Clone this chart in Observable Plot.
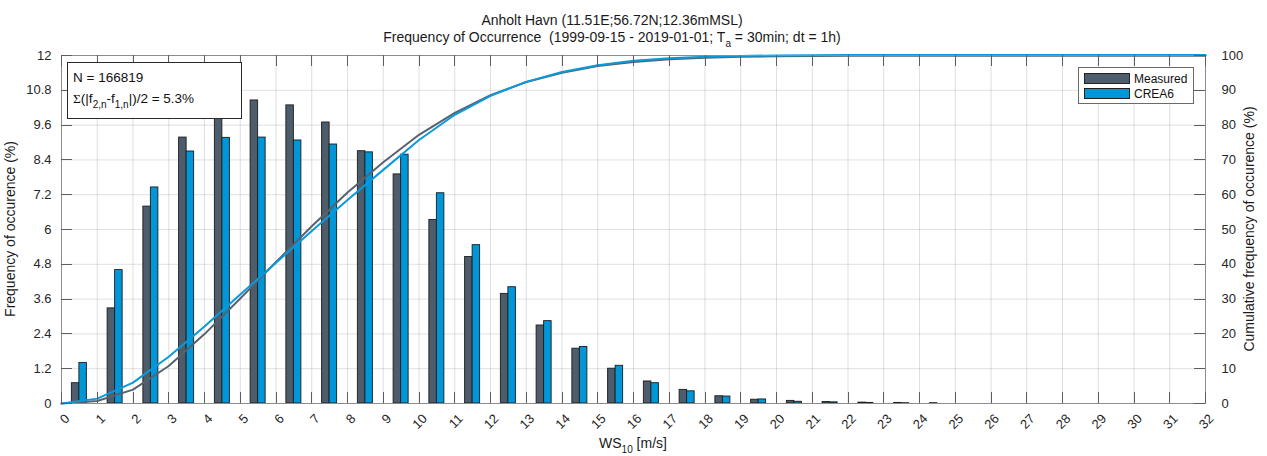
<!DOCTYPE html>
<html>
<head>
<meta charset="utf-8">
<script src="https://cdn.jsdelivr.net/npm/d3@7"></script>
<script src="https://cdn.jsdelivr.net/npm/@observablehq/plot@0.6"></script>
<style>
  html, body { margin: 0; padding: 0; background: #fff; }
  svg { display: block; }
</style>
</head>
<body>
<div id="chart"></div>
<script>
// Wind-speed bins: lower edge of each 1 m/s class
const binStart = [0, 1, 2, 3, 4, 5, 6, 7, 8, 9, 10, 11, 12, 13, 14, 15,
                  16, 17, 18, 19, 20, 21, 22, 23, 24, 25, 26, 27, 28, 29, 30, 31];

// Frequency of occurrence per bin (%)
const measured = [0.70, 3.28, 6.79, 9.17, 10.25, 10.45, 10.28, 9.69, 8.70, 7.90, 6.33, 5.05, 3.78, 2.69, 1.89, 1.20,
                  0.76, 0.47, 0.25, 0.13, 0.09, 0.05, 0.03, 0.02, 0.01, 0, 0, 0, 0, 0, 0, 0];
const crea6    = [1.40, 4.60, 7.45, 8.69, 9.16, 9.17, 9.07, 8.93, 8.66, 8.58, 7.25, 5.46, 4.01, 2.84, 1.95, 1.30,
                  0.70, 0.42, 0.24, 0.14, 0.06, 0.04, 0.02, 0.01, 0, 0, 0, 0, 0, 0, 0, 0];

const seriesNames  = ["Measured", "CREA6"];
const seriesColors = ["#4e5d6b", "#0096d8"];
const lineColors   = ["#56636f", "#0a99dd"];

// Axis ticks
const xTicks = [0, 1, 2, 3, 4, 5, 6, 7, 8, 9, 10, 11, 12, 13, 14, 15, 16,
                17, 18, 19, 20, 21, 22, 23, 24, 25, 26, 27, 28, 29, 30, 31, 32];
const leftTicks  = [0, 1.2, 2.4, 3.6, 4.8, 6, 7.2, 8.4, 9.6, 10.8, 12];
const rightTicks = [0, 10, 20, 30, 40, 50, 60, 70, 80, 90, 100];

const annotationN = "166819";
const annotationDiff = "5.3%";

// ---- layout ----
const W = 1267, H = 456;
const M = {top: 55, right: 62, bottom: 53, left: 61};
const BAR_W = 0.21;           // width of one bar, in m/s
const CUM_TO_LEFT = 12 / 100; // cumulative axis (0–100 %) shares the frame with the 0–12 % axis
const FONT = "'Liberation Sans', Arial, Helvetica, sans-serif";
const INK = "#262626";

// bars: two side by side, centred in each bin
const bars = binStart.flatMap((b, i) => [
  {series: seriesNames[0], x1: b + 0.5 - BAR_W, x2: b + 0.5, f: measured[i]},
  {series: seriesNames[1], x1: b + 0.5, x2: b + 0.5 + BAR_W, f: crea6[i]}
]).filter(d => d.f > 0);

// cumulative curves, evaluated at the upper edge of each bin
function cumulative(values, series) {
  const c = d3.cumsum(values);
  return [{series, x: binStart[0], c: 0}, ...binStart.map((b, i) => ({series, x: b + 1, c: c[i]}))];
}
const cumMeasured = cumulative(measured, seriesNames[0]);
const cumCrea6 = cumulative(crea6, seriesNames[1]);

const chart = Plot.plot({
  width: W,
  height: H,
  marginTop: M.top,
  marginRight: M.right,
  marginBottom: M.bottom,
  marginLeft: M.left,
  style: {fontFamily: FONT, fontSize: "13px", color: INK, background: "#fff"},
  x: {domain: [0, 32]},
  y: {domain: [0, 12]},
  color: {domain: seriesNames, range: seriesColors},
  marks: [
    Plot.gridX(xTicks, {stroke: INK, strokeOpacity: 0.14}),
    Plot.gridY(leftTicks, {stroke: INK, strokeOpacity: 0.14}),
    Plot.rect(bars, {x1: "x1", x2: "x2", y1: 0, y2: "f", fill: "series", stroke: "#1c1c1c", strokeWidth: 0.9}),
    Plot.line(cumMeasured, {x: "x", y: d => d.c * CUM_TO_LEFT, stroke: lineColors[0], strokeWidth: 2}),
    Plot.line(cumCrea6, {x: "x", y: d => d.c * CUM_TO_LEFT, stroke: lineColors[1], strokeWidth: 2}),
    Plot.frame({stroke: "#8c8c8c"}),
    Plot.axisX(xTicks, {anchor: "bottom", tickSize: 0, tickRotate: -45, tickPadding: 13, dx: 6,
                        tickFormat: d => String(d), label: null, fill: INK}),
    Plot.axisY(leftTicks, {anchor: "left", tickSize: 0, tickPadding: 10,
                           tickFormat: d => String(d), label: null, fill: INK}),
    Plot.axisY(rightTicks.map(t => t * CUM_TO_LEFT), {anchor: "right", tickSize: 0, tickPadding: 16,
                           tickFormat: d => String(Math.round(d / CUM_TO_LEFT)), label: null, fill: INK})
  ]
});

document.getElementById("chart").appendChild(chart);

const svg = d3.select(chart);
const xs = chart.scale("x"), ys = chart.scale("y");
const x0 = M.left, x1 = W - M.right, y0 = M.top, y1 = H - M.bottom;

// inward tick marks on all four sides
const TICK = 11;
const ticks = svg.append("g").attr("stroke", "#5e5e5e").attr("stroke-width", 1);
xTicks.forEach(v => {
  const px = Math.round(xs.apply(v)) + 0.5;
  ticks.append("line").attr("x1", px).attr("x2", px).attr("y1", y1).attr("y2", y1 - TICK);
  ticks.append("line").attr("x1", px).attr("x2", px).attr("y1", y0).attr("y2", y0 + TICK);
});
leftTicks.forEach(v => {
  const py = Math.round(ys.apply(v)) + 0.5;
  ticks.append("line").attr("y1", py).attr("y2", py).attr("x1", x0).attr("x2", x0 + TICK);
  ticks.append("line").attr("y1", py).attr("y2", py).attr("x1", x1).attr("x2", x1 - TICK);
});

// text with subscripts: parts = [[text, isSubscript, fontFamily?], ...]
function richText(g, parts, size, subSize) {
  let shifted = false;
  parts.forEach(([t, sub, family]) => {
    const ts = g.append("tspan").text(t);
    if (family) ts.attr("font-family", family);
    if (sub) {
      ts.attr("font-size", subSize);
      if (!shifted) { ts.attr("dy", size * 0.38); shifted = true; }
    } else if (shifted) {
      ts.attr("dy", -size * 0.38); shifted = false;
    }
  });
}

const text = svg.append("g").attr("font-family", FONT).attr("fill", "#1a1a1a").style("white-space", "pre");

// title
const TITLE_X = 612;
text.append("text").attr("x", TITLE_X).attr("y", 25).attr("text-anchor", "middle").attr("font-size", 14)
  .text("Anholt Havn (11.51E;56.72N;12.36mMSL)");
const t2 = text.append("text").attr("x", TITLE_X).attr("y", 42).attr("text-anchor", "middle").attr("font-size", 14);
richText(t2, [["Frequency of Occurrence  (1999-09-15 - 2019-01-01; T", false], ["a", true], [" = 30min; dt = 1h)", false]], 14, 10);

// axis titles
const xl = text.append("text").attr("x", (x0 + x1) / 2).attr("y", 448).attr("text-anchor", "middle").attr("font-size", 14);
richText(xl, [["WS", false], ["10", true], [" [m/s]", false]], 14, 10);

text.append("text").attr("transform", `translate(15,${(y0 + y1) / 2}) rotate(-90)`)
  .attr("text-anchor", "middle").attr("font-size", 14).text("Frequency of occurence (%)");
text.append("text").attr("transform", `translate(1254,${(y0 + y1) / 2}) rotate(-90)`)
  .attr("text-anchor", "middle").attr("font-size", 14).text("Cumulative frequency of occurence (%)");

// statistics box
const box = svg.append("g").attr("font-family", FONT).attr("text-anchor", "start").style("white-space", "pre");
box.append("rect").attr("x", x0 + 6.5).attr("y", y0 + 7.5).attr("width", 174).attr("height", 56)
  .attr("fill", "#fff").attr("stroke", "#2a2a2a").attr("stroke-width", 1);
box.append("text").attr("x", x0 + 12).attr("y", y0 + 27).attr("font-size", 13.5).attr("fill", "#111")
  .text(`N = ${annotationN}`);
const st = box.append("text").attr("x", x0 + 12).attr("y", y0 + 48).attr("font-size", 13.5).attr("fill", "#111");
richText(st, [["Σ", false, "'Liberation Serif', 'Times New Roman', serif"], ["(|f", false], ["2,n", true], ["-f", false], ["1,n", true],
              [`|)/2 = ${annotationDiff}`, false]], 13.5, 10);

// legend
const lg = svg.append("g").attr("font-family", FONT).attr("text-anchor", "start");
const lgW = 115, lgH = 36;
const lgX = x1 - 12 - lgW, lgY = y0 + 12;
lg.append("rect").attr("x", lgX + 0.5).attr("y", lgY + 0.5).attr("width", lgW).attr("height", lgH)
  .attr("fill", "#fff").attr("stroke", "#6a6a6a");
seriesNames.forEach((name, i) => {
  const ry = lgY + 6 + i * 15;
  lg.append("rect").attr("x", lgX + 6.5).attr("y", ry + 0.5).attr("width", 45).attr("height", 10)
    .attr("fill", seriesColors[i]).attr("stroke", "#222");
  lg.append("text").attr("x", lgX + 56).attr("y", ry + 10).attr("font-size", 12).attr("fill", "#111").text(name);
});
</script>
</body>
</html>
